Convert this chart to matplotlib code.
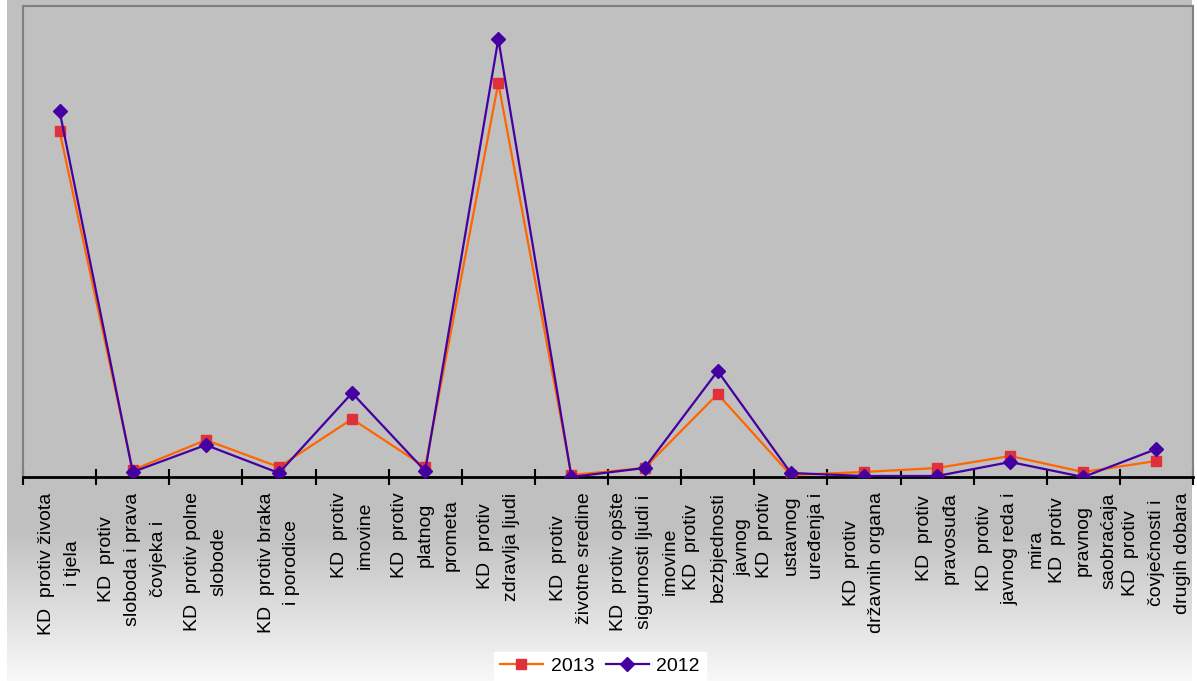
"""
Krivična djela po grupama, 2013 vs 2012 (linijski grafikon).
"""

import matplotlib

matplotlib.use("Agg")
import matplotlib.pyplot as plt
import numpy as np

plt.rcParams["font.family"] = ["Liberation Sans", "DejaVu Sans"]

kategorije = [
    "KD  protiv života\ni tjela",
    "KD  protiv\nsloboda i prava\nčovjeka i",
    "KD  protiv polne\nslobode",
    "KD  protiv braka\ni porodice",
    "KD  protiv\nimovine",
    "KD  protiv\nplatnog\nprometa",
    "KD  protiv\nzdravlja ljudi",
    "KD  protiv\nživotne sredine",
    "KD  protiv opšte\nsigurnosti ljudi i\nimovine",
    "KD  protiv\nbezbjednosti\njavnog",
    "KD  protiv\nustavnog\nuređenja i",
    "KD  protiv\ndržavnih organa",
    "KD  protiv\npravosuđa",
    "KD  protiv\njavnog reda i\nmira",
    "KD  protiv\npravnog\nsaobraćaja",
    "KD  protiv\nčovječnosti i\ndrugih dobara",
]

# vrijednosti procijenjene sa slike (osa y nema oznake)
god_2013 = [346, 7, 37, 10, 58, 10, 394, 2, 9, 83, 2, 5, 9, 21, 5, 16]
god_2012 = [366, 5, 32, 4, 84, 6, 438, 0, 9, 106, 4, 1, 1, 15, 0, 28]

W, H = 1197, 681
fig = plt.figure(figsize=(W / 100, H / 100), dpi=100)
fig.patch.set_facecolor("white")

# pozadina: siva sa prelazom u bijelo pri dnu
bg = fig.add_axes([7 / W, 0, (1192 - 7) / W, 1], zorder=-10)
rows = np.arange(H)
shade = np.where(rows < 530, 0.753, 0.753 + (0.975 - 0.753) * (rows - 530) / (H - 530))
bg.imshow(np.repeat(shade[:, None], 3, axis=1)[:, :, None].repeat(3, axis=2),
          aspect="auto", extent=[0, 1, 0, 1], interpolation="bilinear")
bg.set_axis_off()

ax = fig.add_axes([23 / W, (H - 477) / H, (1193 - 23) / W, (477 - 6) / H])
ax.set_facecolor("#C0C0C0")

x = np.arange(len(kategorije))
ax.plot(x, god_2013, color="#FF6600", lw=1.6, marker="s", ms=7.4,
        mfc="#E0303A", mec="#E0303A", label="2013", zorder=3)
ax.plot(x, god_2012, color="#4400A0", lw=1.6, marker="D", ms=7.5,
        mfc="#4400A0", mec="#4400A0", label="2012", zorder=4)

ax.set_xlim(-0.5, len(kategorije) - 0.5)
ax.set_ylim(0, 471)
ax.set_yticks([])

ax.set_xticks(x)
ax.set_xticklabels(kategorije, rotation=90, fontsize=14, multialignment="center",
                   linespacing=1.68)
ax.tick_params(axis="x", which="major", length=0, pad=11)
ax.set_xticks(np.arange(-0.5, len(kategorije)), minor=True)
ax.tick_params(axis="x", which="minor", direction="inout", length=12, width=1.5,
               color="black")

for s in ["left", "top", "right"]:
    ax.spines[s].set_color("#808080")
    ax.spines[s].set_linewidth(1.5)
ax.spines["bottom"].set_color("black")
ax.spines["bottom"].set_linewidth(2)

leg = fig.legend(loc="lower center", bbox_to_anchor=(600 / W, 0), ncol=2,
                 fontsize=14, frameon=True, fancybox=False, borderaxespad=0,
                 handlelength=2.2, columnspacing=0.6, handletextpad=0.4,
                 borderpad=0.3)
leg.get_frame().set_facecolor("white")
leg.get_frame().set_edgecolor("white")
leg.get_frame().set_alpha(1)

fig.savefig("out.png", dpi=100)
